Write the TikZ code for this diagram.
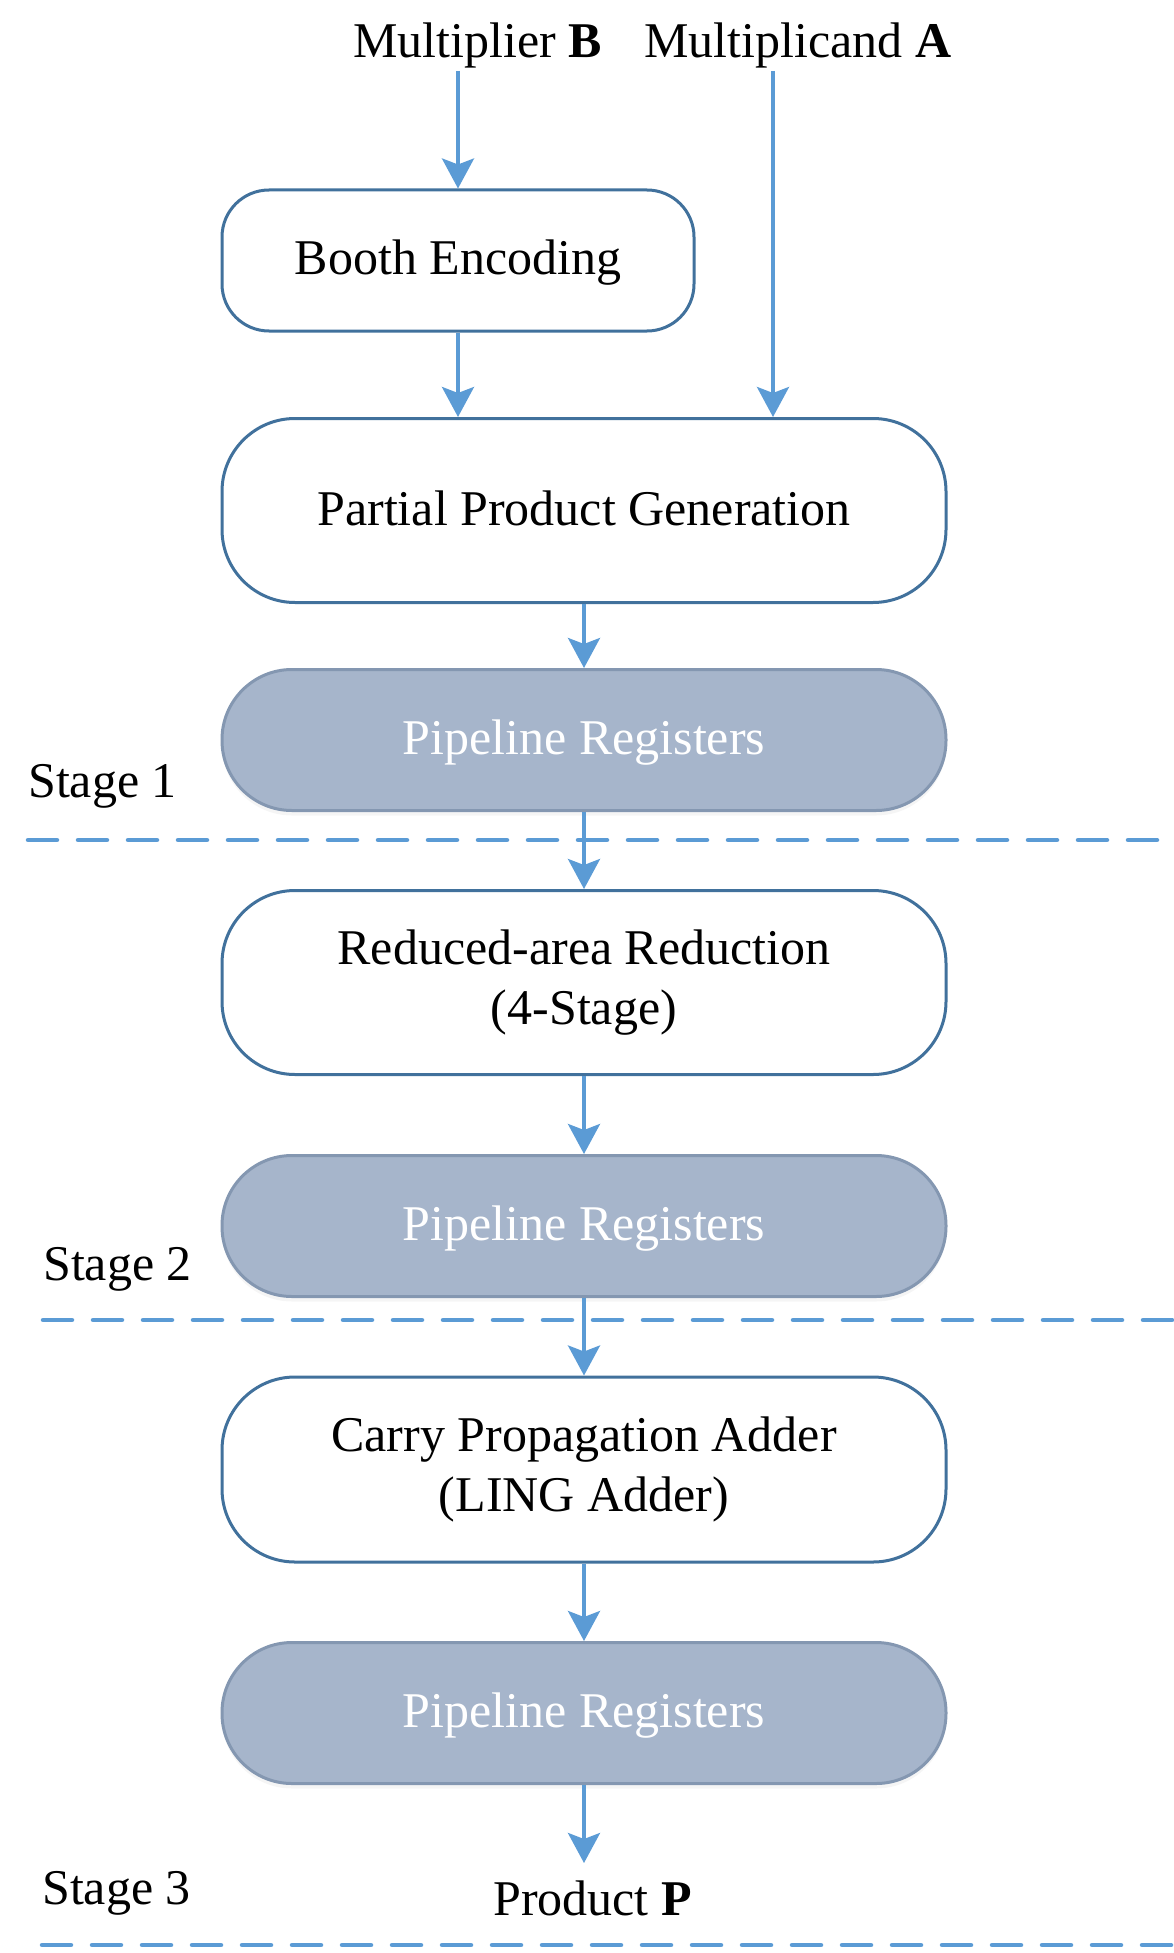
\documentclass[tikz,border=0pt]{standalone}
\usepackage{fontspec}
\setmainfont{Liberation Serif}
\usetikzlibrary{arrows.meta,shadows}
\definecolor{boxline}{RGB}{65,113,156}
\definecolor{arrowblue}{RGB}{91,155,213}
\definecolor{pfill}{RGB}{166,181,203}
\definecolor{pline}{RGB}{132,151,177}
\begin{document}
\begin{tikzpicture}[x=1pt,y=-1pt,
  every node/.style={font=\fontsize{50}{60}\selectfont, inner sep=0pt},
  procbox/.style={draw=boxline, line width=3pt, fill=white, align=center,
    minimum width=724pt, minimum height=184pt, rounded corners=73pt},
  regbox/.style={draw=pline, line width=3pt, fill=pfill, text=white,
    minimum width=724pt, minimum height=141pt, rounded corners=70pt,
    text height=35pt, text depth=6pt,
    drop shadow={opacity=0.08, shadow xshift=0pt, shadow yshift=-5pt}},
  flow/.style={draw=arrowblue, line width=3.8pt,
    -{Stealth[length=30pt,width=32pt,inset=6pt]}},
  stageline/.style={draw=arrowblue, line width=4.5pt,
    dash pattern=on 29pt off 21pt, line cap=round}
]
\useasboundingbox (0,0) rectangle (1173,1953);

% stage separators
\coordinate (d1a) at (28,840);  \coordinate (d1b) at (1173,840);
\coordinate (d2a) at (43,1320); \coordinate (d2b) at (1173,1320);
\coordinate (d3a) at (42,1945); \coordinate (d3b) at (1173,1945);
\draw[stageline] (d1a) -- (d1b);
\draw[stageline] (d2a) -- (d2b);
\draw[stageline] (d3a) -- (d3b);

% inputs
\node[anchor=base west] (mb) at (353,58) {Multiplier \textbf{B}};
\node[anchor=base west] (ma) at (644,58) {Multiplicand \textbf{A}};
\coordinate (bstart) at (458,71);
\coordinate (astart) at (773,71);

% blocks
\node[procbox, minimum width=472pt, minimum height=141pt, rounded corners=47pt,
      text height=35pt, text depth=6pt] (booth) at (458,260.5) {Booth Encoding};
\node[procbox, text height=35pt, text depth=6pt] (ppg) at (584,510.5) {Partial Product Generation};
\node[regbox] (pr1) at (584,740) {Pipeline Registers};
\node[procbox] (red) at (584,982.5) {Reduced-area Reduction\\(4-Stage)};
\node[regbox] (pr2) at (584,1226) {Pipeline Registers};
\node[procbox, minimum height=185pt] (cpa) at (584,1469.5) {Carry Propagation Adder\\(LING Adder)};
\node[regbox] (pr3) at (584,1713) {Pipeline Registers};

% output
\node[anchor=base west] (prod) at (493,1915) {Product \textbf{P}};
\coordinate (pend) at (584,1863);

% stage labels
\node[anchor=base west] (s1) at (28,797) {Stage 1};
\node[anchor=base west] (s2) at (43,1280) {Stage 2};
\node[anchor=base west] (s3) at (42,1904) {Stage 3};

% connectors
\draw[flow] (bstart) -- (booth.north);
\draw[flow] (astart) -- (astart |- ppg.north);
\draw[flow] (booth.south) -- (booth.south |- ppg.north);
\draw[flow] (ppg.south) -- (pr1.north);
\draw[flow] (pr1.south) -- (red.north);
\draw[flow] (red.south) -- (pr2.north);
\draw[flow] (pr2.south) -- (cpa.north);
\draw[flow] (cpa.south) -- (pr3.north);
\draw[flow] (pr3.south) -- (pend);
\end{tikzpicture}
\end{document}
